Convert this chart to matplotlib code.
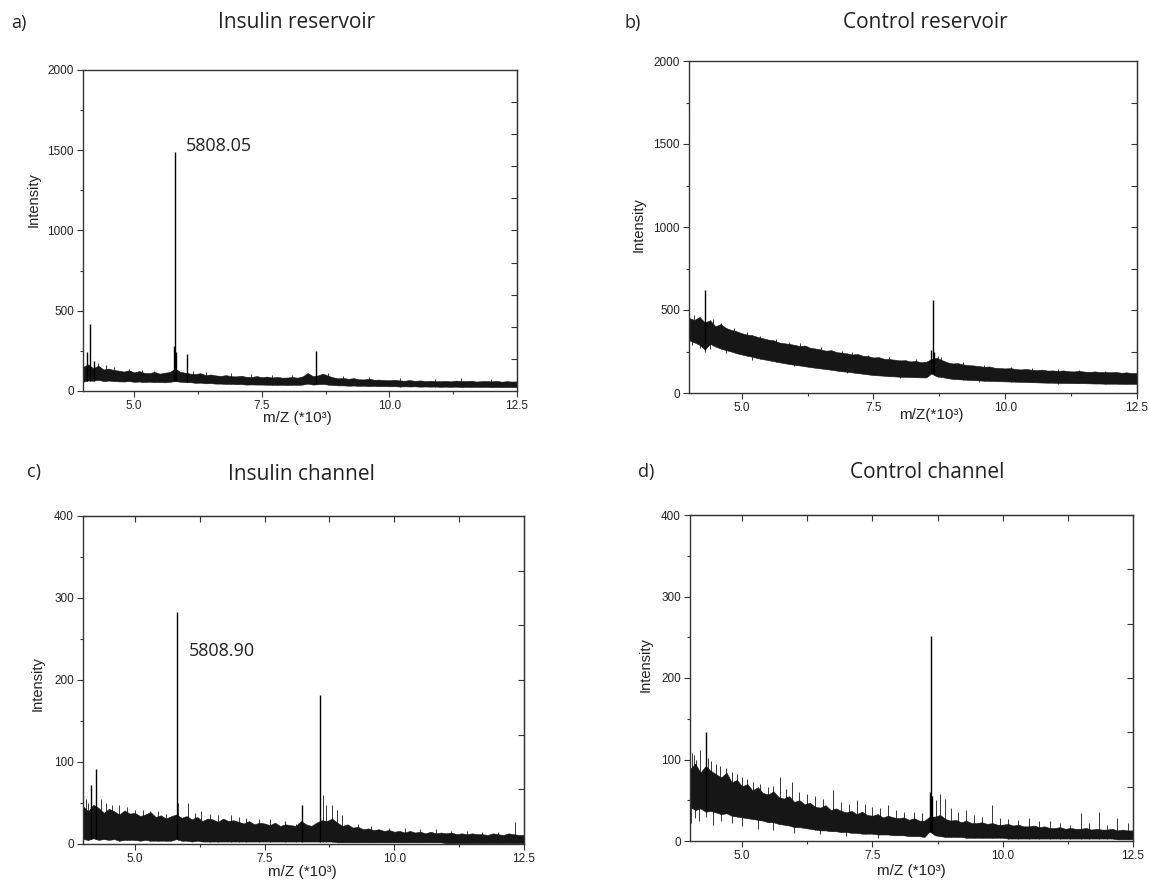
import numpy as np
import matplotlib.pyplot as plt
from matplotlib.ticker import MultipleLocator, FixedLocator, NullFormatter, FormatStrFormatter

# values: m/Z in units of 10^3, intensity in counts
# the dense noise band is given as its lower / upper edge every 0.1 (x 10^3) m/Z,
# plus single spikes sticking out of it and the labelled peaks
mz_grid = np.round(np.arange(40, 126) / 10, 1)   # 4.0 ... 12.5

# a) Insulin reservoir
band_hi_a = [150, 166, 142, 158, 134, 140, 131, 127, 121, 129,
             116, 124, 113, 111, 119, 108, 114, 118, 140, 120,
             114, 108, 106, 111, 99, 103, 97, 94, 99, 92,
             91, 95, 88, 87, 93, 86, 90, 84, 88, 83,
             84, 87, 83, 91, 112, 93, 97, 108, 95, 85,
             79, 81, 76, 80, 73, 72, 77, 70, 71, 68,
             67, 70, 66, 64, 68, 63, 66, 62, 64, 61,
             61, 63, 60, 65, 62, 62, 64, 59, 61, 62,
             60, 63, 58, 61, 59, 60]
band_lo_a = [58, 66, 64, 70, 62, 65, 62, 60, 59, 62,
             57, 59, 56, 58, 55, 56, 54, 57, 62, 58,
             55, 55, 51, 52, 48, 49, 46, 46, 44, 45,
             42, 43, 40, 41, 40, 40, 39, 39, 38, 39,
             37, 39, 38, 40, 46, 40, 42, 44, 40, 37,
             35, 35, 33, 34, 32, 33, 31, 32, 30, 31,
             29, 30, 28, 29, 28, 29, 27, 28, 27, 28,
             26, 27, 26, 27, 25, 26, 25, 26, 25, 26,
             24, 25, 24, 25, 24, 25]
peak_x_a = [4.08, 4.14, 4.22, 5.79, 5.808, 5.825, 6.03, 8.56]
peak_y_a = [240, 415, 190, 280, 1490, 240, 230, 250]
spike_x_a = [4.3, 4.45, 4.6, 4.9, 5.15, 5.4, 6.15, 6.4, 6.9, 7.3, 7.7, 8.1, 8.8, 9.1, 9.6, 10.2, 10.9,
             11.4, 12.0]
spike_y_a = [175, 160, 150, 140, 130, 125, 125, 120, 110, 105, 100, 98, 110, 92, 85, 80, 75, 78, 74]

# b) Control reservoir
band_hi_b = [452, 440, 458, 425, 438, 402, 415, 392, 380, 372,
             360, 352, 348, 338, 330, 322, 318, 305, 300, 296,
             290, 283, 286, 272, 268, 262, 255, 258, 246, 243,
             238, 232, 235, 224, 222, 214, 216, 206, 204, 201,
             196, 198, 190, 193, 186, 188, 205, 212, 198, 185,
             178, 180, 172, 168, 166, 162, 158, 160, 152, 150,
             148, 150, 144, 142, 145, 140, 138, 141, 135, 136,
             133, 136, 131, 130, 133, 129, 127, 130, 126, 127,
             125, 127, 122, 124, 121, 120]
band_lo_b = [318, 305, 290, 262, 296, 280, 268, 258, 250, 240,
             232, 225, 218, 210, 204, 198, 192, 186, 180, 175,
             170, 166, 161, 156, 152, 148, 144, 140, 135, 131,
             128, 124, 120, 116, 112, 108, 106, 104, 101, 100,
             98, 97, 96, 95, 94, 94, 118, 100, 96, 90,
             85, 83, 81, 79, 77, 76, 74, 73, 72, 71,
             70, 69, 68, 67, 66, 65, 64, 63, 62, 62,
             61, 60, 60, 59, 59, 59, 58, 57, 57, 56,
             56, 56, 55, 55, 55, 55]
peak_x_b = [4.30, 8.60, 8.62, 8.64]
peak_y_b = [620, 260, 560, 250]
spike_x_b = [4.1, 4.45, 4.6, 4.85, 5.1, 5.35, 5.65, 5.9, 6.1, 6.5, 6.9, 7.1, 7.4, 7.8, 8.3, 8.72, 8.78,
             9.2, 9.6, 10.1, 10.5, 11.0, 11.4, 11.9, 12.3]
spike_y_b = [470, 445, 420, 390, 370, 345, 325, 305, 300, 275, 255, 248, 230, 215, 205, 225, 215, 185,
             170, 158, 150, 143, 140, 132, 128]
dip_x_b = [4.05, 4.2, 4.3, 4.4, 4.7, 5.2, 6.0, 7.0, 8.0, 9.5, 11.0]
dip_y_b = [290, 270, 250, 265, 240, 200, 160, 120, 88, 68, 55]

# c) Insulin channel
band_hi_c = [46, 40, 48, 44, 38, 43, 40, 36, 41, 37,
             38, 34, 36, 39, 33, 35, 31, 34, 36, 32,
             34, 30, 33, 28, 31, 30, 27, 31, 28, 29,
             27, 25, 28, 24, 26, 25, 23, 26, 22, 24,
             23, 22, 28, 24, 22, 26, 29, 28, 31, 26,
             22, 24, 20, 21, 18, 19, 17, 18, 16, 17,
             15, 16, 14, 16, 14, 15, 13, 15, 13, 14,
             13, 14, 12, 13, 12, 13, 12, 12, 11, 13,
             12, 11, 13, 12, 11, 11]
band_lo_c = [6, 5, 7, 5, 6, 5, 6, 4, 5, 5,
             5, 4, 5, 4, 4, 4, 4, 4, 6, 4,
             4, 3, 4, 3, 3, 3, 3, 3, 3, 3,
             3, 3, 3, 3, 3, 3, 3, 3, 3, 3,
             3, 3, 3, 3, 3, 3, 3, 3, 3, 2,
             2, 2, 2, 2, 2, 2, 2, 2, 2, 2,
             2, 2, 2, 2, 2, 2, 2, 2, 2, 2,
             1, 1, 1, 1, 1, 1, 1, 1, 1, 1,
             1, 1, 1, 1, 1, 1]
peak_x_c = [4.15, 4.26, 5.805, 8.22, 8.56]
peak_y_c = [72, 91, 283, 48, 182]
spike_x_c = [4.05, 4.1, 4.35, 4.45, 4.55, 4.7, 4.85, 5.0, 5.15, 5.3, 5.45, 5.6, 5.83, 6.02, 6.15, 6.28,
             6.45, 6.6, 6.85, 7.0, 7.15, 7.4, 7.6, 7.9, 8.1, 8.62, 8.68, 8.8, 8.9, 9.0, 9.3, 9.55, 9.9,
             10.2, 10.5, 10.8, 11.1, 11.4, 11.7, 12.0, 12.32]
spike_y_c = [55, 50, 55, 50, 48, 47, 45, 42, 42, 40, 40, 37, 50, 50, 38, 40, 36, 35, 35, 33, 32, 30, 30,
             28, 25, 60, 48, 48, 42, 35, 25, 22, 20, 20, 18, 18, 16, 16, 15, 15, 27]

# d) Control channel
band_hi_d = [88, 95, 84, 92, 86, 82, 78, 84, 72, 75,
             67, 70, 62, 66, 59, 57, 61, 54, 52, 55,
             48, 50, 45, 47, 42, 41, 44, 38, 40, 37,
             35, 37, 33, 36, 32, 31, 33, 29, 31, 29,
             28, 29, 26, 28, 25, 25, 30, 30, 32, 27,
             25, 26, 23, 25, 22, 22, 23, 21, 22, 20,
             20, 21, 19, 20, 18, 18, 19, 17, 18, 16,
             16, 17, 15, 16, 15, 15, 16, 14, 15, 14,
             14, 15, 13, 14, 13, 13]
band_lo_d = [42, 38, 40, 36, 37, 35, 33, 34, 31, 30,
             29, 28, 27, 26, 25, 23, 23, 21, 20, 19,
             17, 17, 16, 15, 14, 13, 13, 12, 12, 11,
             11, 10, 10, 9, 9, 9, 8, 8, 8, 7,
             7, 7, 6, 6, 6, 5, 12, 7, 6, 5,
             5, 5, 5, 4, 4, 4, 4, 4, 4, 4,
             4, 3, 3, 3, 3, 3, 3, 3, 3, 3,
             3, 3, 3, 3, 3, 3, 3, 3, 3, 3,
             3, 3, 2, 2, 2, 2]
peak_x_d = [4.30, 8.61, 8.62, 8.635]
peak_y_d = [134, 60, 252, 55]
spike_x_d = [4.03, 4.08, 4.12, 4.2, 4.35, 4.4, 4.5, 4.58, 4.7, 4.8, 4.9, 5.0, 5.1, 5.2, 5.35, 5.5, 5.6,
             5.72, 5.85, 5.95, 6.1, 6.25, 6.4, 6.55, 6.75, 6.9, 7.05, 7.2, 7.35, 7.5, 7.65, 7.8, 7.95,
             8.1, 8.3, 8.45, 8.72, 8.8, 8.9, 9.0, 9.15, 9.3, 9.45, 9.6, 9.8, 9.95, 10.1, 10.3, 10.5,
             10.7, 10.9, 11.1, 11.3, 11.5, 11.65, 11.85, 12.0, 12.2, 12.4]
spike_y_d = [108, 105, 100, 112, 102, 98, 95, 92, 90, 85, 82, 78, 76, 72, 70, 66, 68, 78, 64, 72, 60,
             58, 55, 52, 62, 48, 46, 50, 45, 42, 40, 44, 38, 36, 35, 34, 50, 58, 52, 40, 35, 38, 32, 30,
             44, 28, 27, 26, 28, 24, 25, 22, 20, 34, 22, 35, 20, 28, 22]
dip_x_d = [4.02, 4.1, 4.18, 4.3, 4.45, 4.6, 4.8, 5.0, 5.3, 5.6, 6.0, 6.5, 7.0, 7.6]
dip_y_d = [22, 28, 25, 30, 20, 24, 22, 18, 15, 14, 10, 8, 6, 4]

W, H = 1149, 881
INK = '#161616'


def rect(l, t, r, b):
    return [l / W, 1 - b / H, (r - l) / W, (b - t) / H]


def draw_spectrum(ax, lo, hi, sx, sy, px, py, dx=(), dy=()):
    ax.fill_between(mz_grid, lo, hi, color=INK, lw=0.4, edgecolor=INK)
    ax.vlines(sx, np.interp(sx, mz_grid, lo), sy, color=INK, lw=0.6)
    if len(dx):
        ax.vlines(dx, dy, np.interp(dx, mz_grid, hi), color=INK, lw=0.6)
    ax.vlines(px, np.interp(px, mz_grid, lo), py, color='black', lw=1.0)


def style_axes(ax, ymax, ystep, right_ticks, top_ticks, xlab, xlab_pos, ylab_pos):
    ax.set_xlim(4.0, 12.5)
    ax.set_ylim(0, ymax)
    ax.xaxis.set_major_locator(FixedLocator([5.0, 7.5, 10.0, 12.5]))
    ax.xaxis.set_minor_locator(FixedLocator([6.25, 8.75, 11.25]))
    ax.xaxis.set_major_formatter(FormatStrFormatter('%.1f'))
    ax.yaxis.set_major_locator(MultipleLocator(ystep))
    ax.yaxis.set_minor_locator(MultipleLocator(ystep / 2))
    ax.tick_params(which='major', direction='out', length=4.5, width=0.8, pad=2,
                   labelsize=8.5, colors='#333333', labelcolor='#222222')
    ax.tick_params(which='minor', direction='out', length=2.2, width=0.8, colors='#333333')
    for sp in ax.spines.values():
        sp.set_color('#333333')
        sp.set_linewidth(1.0)
    for lab in ax.get_xticklabels() + ax.get_yticklabels():
        lab.set_family('Liberation Sans')

    # right (and top) axes carry their own, unlabelled inward ticks
    sec = ax.secondary_yaxis('right')
    sec.yaxis.set_major_locator(FixedLocator(right_ticks))
    sec.yaxis.set_major_formatter(NullFormatter())
    sec.tick_params(direction='in', length=4, width=0.8, colors='#333333')
    sec.spines['right'].set_color('#333333')
    if top_ticks:
        sec2 = ax.secondary_xaxis('top')
        sec2.xaxis.set_major_locator(FixedLocator(top_ticks))
        sec2.xaxis.set_major_formatter(NullFormatter())
        sec2.tick_params(direction='in', length=4, width=0.8, colors='#333333')
        sec2.spines['top'].set_color('#333333')

    ax.set_xlabel(xlab, fontsize=11, family='Liberation Sans', color='#222222')
    ax.xaxis.label.set_verticalalignment('center')
    ax.xaxis.set_label_coords(*xlab_pos)
    ax.set_ylabel('Intensity', fontsize=10.5, family='Liberation Sans', color='#222222')
    ax.yaxis.label.set_verticalalignment('center')
    ax.yaxis.set_label_coords(*ylab_pos)


fig = plt.figure(figsize=(W / 100, H / 100), dpi=100)

ax_a = fig.add_axes(rect(83, 70, 517, 391))
ax_b = fig.add_axes(rect(689, 61, 1137, 393))
ax_c = fig.add_axes(rect(83, 516, 524, 844))
ax_d = fig.add_axes(rect(690, 515, 1133, 841))

draw_spectrum(ax_a, band_lo_a, band_hi_a, spike_x_a, spike_y_a, peak_x_a, peak_y_a)
draw_spectrum(ax_b, band_lo_b, band_hi_b, spike_x_b, spike_y_b, peak_x_b, peak_y_b, dip_x_b, dip_y_b)
draw_spectrum(ax_c, band_lo_c, band_hi_c, spike_x_c, spike_y_c, peak_x_c, peak_y_c)
draw_spectrum(ax_d, band_lo_d, band_hi_d, spike_x_d, spike_y_d, peak_x_d, peak_y_d, dip_x_d, dip_y_d)

top_c = [5.0, 6.25, 7.5, 8.75, 10.0, 11.25]
style_axes(ax_a, 2000, 500, np.arange(200, 2000, 200), None,
           'm/Z (*10³)', (0.493, -0.085), (-0.113, 0.595))
style_axes(ax_b, 2000, 500, np.arange(250, 2000, 250), None,
           'm/Z(*10³)', (0.54, -0.066), (-0.112, 0.506))
style_axes(ax_c, 400, 100, np.arange(400 / 6, 399, 400 / 6), top_c,
           'm/Z (*10³)', (0.498, -0.086), (-0.103, 0.49))
style_axes(ax_d, 400, 100, np.arange(400 / 6, 399, 400 / 6), top_c,
           'm/Z (*10³)', (0.499, -0.093), (-0.10, 0.54))

ax_a.text(6.02, 1526, '5808.05', fontsize=13, family='Open Sans', color='#222222', va='center')
ax_c.text(6.04, 235, '5808.90', fontsize=13, family='Open Sans', color='#222222', va='center')

titles = [('a)', 11, 23, 'Insulin reservoir', 297, 23),
          ('b)', 625, 23, 'Control reservoir', 925, 23),
          ('c)', 27, 472, 'Insulin channel', 301, 475),
          ('d)', 638, 472, 'Control channel', 927, 473)]
for letter, lx, ly, title, tx, ty in titles:
    fig.text(lx / W, 1 - ly / H, letter, fontsize=13, family='Open Sans', color='#222222',
             ha='left', va='center')
    fig.text(tx / W, 1 - ty / H, title, fontsize=15, family='Open Sans', color='#222222',
             ha='center', va='center')

fig.savefig('out.png', dpi=100, facecolor='white')
